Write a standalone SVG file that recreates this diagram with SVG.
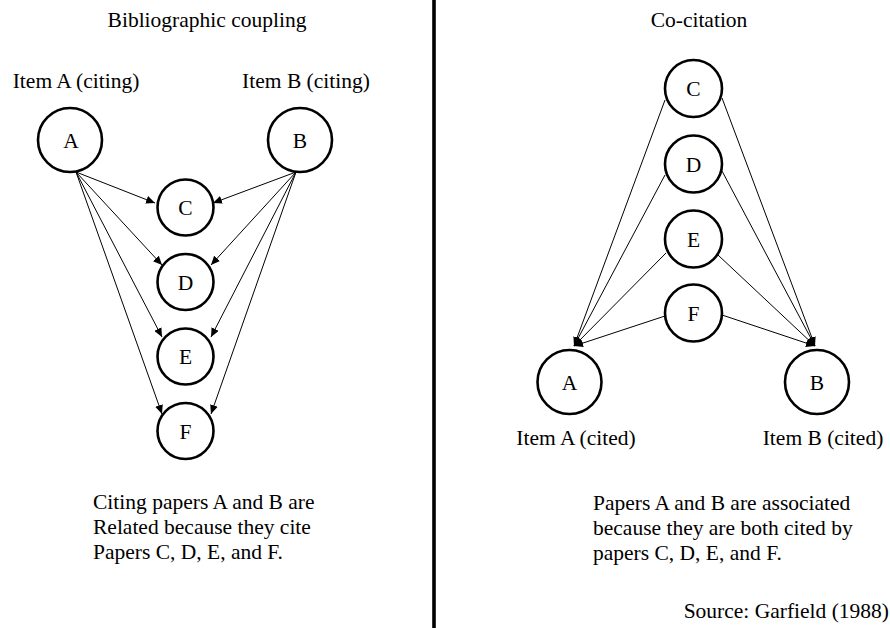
<svg xmlns="http://www.w3.org/2000/svg" width="890" height="628" viewBox="0 0 890 628">
  <style>
    text { font-family: "Liberation Serif", "Times New Roman", serif; font-size: 21.5px; fill: #000; }
    .lbl { text-anchor: middle; }
    .node circle { fill: #fff; stroke: #000; stroke-width: 2.6; }
    .node text { text-anchor: middle; }
    .edges line { stroke: #000; stroke-width: 1; marker-end: url(#arrow); }
  </style>
  <defs>
    <marker id="arrow" markerUnits="userSpaceOnUse" markerWidth="10" markerHeight="8" refX="9" refY="4" orient="auto">
      <path d="M0,0 L9,4 L0,8 Z" fill="#000"/>
    </marker>
  </defs>
  <rect width="890" height="628" fill="#fff"/>

  <!-- panel divider -->
  <line x1="434" y1="0" x2="434" y2="628" stroke="#000" stroke-width="3.6"/>

  <!-- titles -->
  <text class="lbl" x="207" y="27">Bibliographic coupling</text>
  <text class="lbl" x="699" y="27">Co-citation</text>

  <!-- left panel: bibliographic coupling edges -->
  <g id="edges-coupling" class="edges">
    <line x1="76" y1="172" x2="155" y2="203"/>
    <line x1="76" y1="172" x2="162" y2="265"/>
    <line x1="76" y1="172" x2="162" y2="337"/>
    <line x1="76" y1="172" x2="162" y2="414"/>
    <line x1="296" y1="172" x2="213" y2="203"/>
    <line x1="296" y1="172" x2="211" y2="265"/>
    <line x1="296" y1="172" x2="211" y2="337"/>
    <line x1="296" y1="172" x2="211" y2="414"/>
  </g>

  <g id="coupling-A" class="node">
    <circle cx="70" cy="140" r="32"/>
    <text x="71" y="147.5">A</text>
  </g>
  <g id="coupling-B" class="node">
    <circle cx="300" cy="140" r="32"/>
    <text x="300" y="147.5">B</text>
  </g>
  <g id="coupling-C" class="node">
    <circle cx="185.5" cy="207.5" r="28"/>
    <text x="185.5" y="215">C</text>
  </g>
  <g id="coupling-D" class="node">
    <circle cx="185.5" cy="282" r="28"/>
    <text x="185.5" y="289.5">D</text>
  </g>
  <g id="coupling-E" class="node">
    <circle cx="185.5" cy="356.5" r="28"/>
    <text x="185.5" y="364">E</text>
  </g>
  <g id="coupling-F" class="node">
    <circle cx="185.5" cy="431" r="28"/>
    <text x="185.5" y="438.5">F</text>
  </g>

  <text class="lbl" x="76" y="88">Item A (citing)</text>
  <text class="lbl" x="306" y="88">Item B (citing)</text>

  <text x="93" y="509">Citing papers A and B are</text>
  <text x="93" y="534">Related because they cite</text>
  <text x="93" y="559">Papers C, D, E, and F.</text>

  <!-- right panel: co-citation edges -->
  <g id="edges-cocitation" class="edges">
    <line x1="665" y1="100" x2="574" y2="346"/>
    <line x1="665" y1="175" x2="574" y2="346"/>
    <line x1="666" y1="253" x2="574" y2="346"/>
    <line x1="665" y1="316" x2="574" y2="346"/>
    <line x1="722" y1="98" x2="815" y2="346"/>
    <line x1="722" y1="171" x2="815" y2="346"/>
    <line x1="718" y1="255" x2="815" y2="346"/>
    <line x1="722" y1="315" x2="815" y2="346"/>
  </g>

  <g id="cocitation-C" class="node">
    <circle cx="693.5" cy="88.5" r="28.5"/>
    <text x="693.5" y="96">C</text>
  </g>
  <g id="cocitation-D" class="node">
    <circle cx="693.5" cy="164" r="28.5"/>
    <text x="693.5" y="171.5">D</text>
  </g>
  <g id="cocitation-E" class="node">
    <circle cx="693.5" cy="239" r="28.5"/>
    <text x="693.5" y="246.5">E</text>
  </g>
  <g id="cocitation-F" class="node">
    <circle cx="693.5" cy="313" r="28.5"/>
    <text x="693.5" y="320.5">F</text>
  </g>
  <g id="cocitation-A" class="node">
    <circle cx="569.5" cy="382" r="32"/>
    <text x="569.5" y="389.5">A</text>
  </g>
  <g id="cocitation-B" class="node">
    <circle cx="817" cy="382" r="32"/>
    <text x="817" y="389.5">B</text>
  </g>

  <text class="lbl" x="576" y="445">Item A (cited)</text>
  <text class="lbl" x="823" y="445">Item B (cited)</text>

  <text x="593" y="510">Papers A and B are associated</text>
  <text x="593" y="535">because they are both cited by</text>
  <text x="593" y="560">papers C, D, E, and F.</text>

  <text x="889" y="618" text-anchor="end">Source: Garfield (1988)</text>
</svg>
